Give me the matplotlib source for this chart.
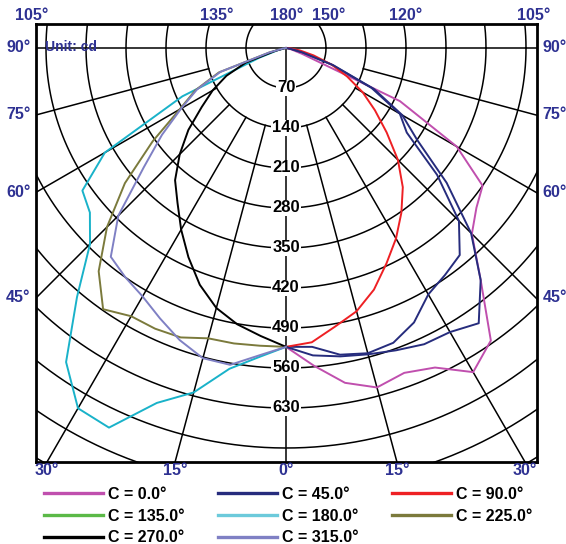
import numpy as np
import matplotlib.pyplot as plt
from matplotlib.lines import Line2D

plt.rcParams['font.family'] = ['Liberation Sans', 'DejaVu Sans']
plt.rcParams['font.weight'] = 'bold'

# vertical angle gamma (deg) and intensities (cd) per C-plane
gamma = [0, 5, 10, 15, 20, 25, 30, 35, 40, 45, 50, 55, 60, 65, 70, 75, 80, 85, 90]
c0 = [523, 558, 595, 615, 605, 617, 655, 625, 530, 460, 435, 420, 345, 220, 30, 10, 3, 0, 0]
c45 = [523, 525, 545, 553, 549, 530, 498, 485, 473, 428, 345, 258, 230, 165, 85, 30, 8, 0, 0]
c90 = [523, 517, 495, 477, 450, 416, 385, 352, 318, 277, 230, 190, 155, 118, 85, 50, 25, 8, 0]
c135 = [523, 540, 548, 555, 563, 572, 574, 588, 530, 458, 367, 280, 235, 170, 88, 30, 8, 0, 0]
c180 = [523, 543, 570, 624, 661, 733, 728, 671, 569, 485, 448, 435, 366, 200, 50, 15, 3, 0, 0]
c225 = [523, 523, 525, 526, 539, 542, 542, 558, 510, 443, 368, 285, 215, 175, 125, 30, 5, 0, 0]
c270 = [523, 506, 491, 471, 441, 404, 367, 331, 302, 263, 223, 180, 148, 115, 75, 20, 3, 0, 0]
c315 = [523, 540, 563, 562, 544, 522, 502, 490, 477, 415, 325, 265, 212, 172, 122, 30, 5, 0, 0]

labels = ["C = 0.0°", "C = 45.0°", "C = 90.0°", "C = 135.0°",
          "C = 180.0°", "C = 225.0°", "C = 270.0°", "C = 315.0°"]
series = [c0, c45, c90, c135, c180, c225, c270, c315]
sides = [1, 1, 1, 1, -1, -1, -1, -1]
line_colors = ["#c04fae", "#262c7d", "#ee2024", "#262c7d",
               "#19b2c9", "#7b7a3c", "#000000", "#7f80c4"]
legend_colors = ["#c04fae", "#262c7d", "#ee2024", "#5bb947",
                 "#6ccadb", "#7b7a3c", "#000000", "#7f80c4"]

rings = [70 * k for k in range(1, 13)]
ring_labels = [70 * k for k in range(1, 10)]
navy = "#2e3192"

fig = plt.figure(figsize=(5.66, 5.44), dpi=100)
ax = fig.add_axes([36 / 566, 82 / 544, 501 / 566, 438 / 544])
ax.set_xlim(-437.5, 439.25)
ax.set_ylim(-724.5, 42)
ax.set_xticks([])
ax.set_yticks([])
for sp in ax.spines.values():
    sp.set_linewidth(2)

# grid: circles round the pole, radial spokes
t = np.linspace(0, 2 * np.pi, 500)
for r in rings:
    ax.plot(r * np.cos(t), r * np.sin(t), color='black', lw=1.1, zorder=1)
for g in [15, 30, 45, 60, 75]:
    s, c = np.sin(np.radians(g)), np.cos(np.radians(g))
    for side in (-1, 1):
        ax.plot([side * 140 * s, side * 1500 * s], [-140 * c, -1500 * c],
                color='black', lw=1.1, zorder=1)
ax.plot([-1000, 1000], [0, 0], color='black', lw=1.1, zorder=1)
ax.plot([0, 0], [0, -1000], color='black', lw=1.1, zorder=1)

# curves
g = np.radians(gamma)
for vals, side, col in zip(series, sides, line_colors):
    v = np.array(vals, dtype=float)
    ax.plot(side * v * np.sin(g), -v * np.cos(g), color=col, lw=1.4, zorder=3)

for r in ring_labels:
    ax.text(0, -r, str(r), ha='center', va='center', fontsize=12,
            color='black', zorder=5,
            bbox=dict(facecolor='white', edgecolor='none', pad=0.6))

ax.text((45 - 36) / 501, (462 - 47) / 438, "Unit: cd", transform=ax.transAxes,
        ha='left', va='center', fontsize=10, color=navy, zorder=5)

# angle labels on the sides
x0, x1 = ax.get_xlim()
y0, y1 = ax.get_ylim()
for a in [45, 60, 75, 90]:
    yy = 0 if a == 90 else x0 / np.tan(np.radians(a))
    ax.annotate(f"{a}°", xy=(x0, yy), xytext=(-4, 0), textcoords='offset points',
                ha='right', va='center', fontsize=11.5, color=navy, annotation_clip=False)
    ax.annotate(f"{a}°", xy=(x1, yy), xytext=(4, 0), textcoords='offset points',
                ha='left', va='center', fontsize=11.5, color=navy, annotation_clip=False)
for a in [-30, -15, 0, 15, 30]:
    xx = -y0 * np.tan(np.radians(a))
    ax.annotate(f"{abs(a)}°", xy=(xx, y0), xytext=(0, -1), textcoords='offset points',
                ha='center', va='top', fontsize=11.5, color=navy, annotation_clip=False)

top_labels = ["105°", "135°", "180°", "150°", "120°", "105°"]
top_x = [32, 217, 287, 329, 406, 534]
for lab, px in zip(top_labels, top_x):
    fig.text(px / 566, 1 - 15 / 544, lab, ha='center', va='center',
             fontsize=11.5, color=navy)

# legend, filled column by column
order = [0, 3, 6, 1, 4, 7, 2, 5]
handles = [Line2D([], [], color=legend_colors[i], lw=2.4) for i in order]
fig.legend(handles, [labels[i] for i in order], ncol=3, loc='upper left',
           bbox_to_anchor=(44 / 566, 1 - 487 / 544), frameon=False, fontsize=11.5,
           handlelength=3.7, handletextpad=0.3, columnspacing=2.1,
           labelspacing=0.42, borderpad=0, borderaxespad=0)

fig.savefig("out.png", dpi=100)
